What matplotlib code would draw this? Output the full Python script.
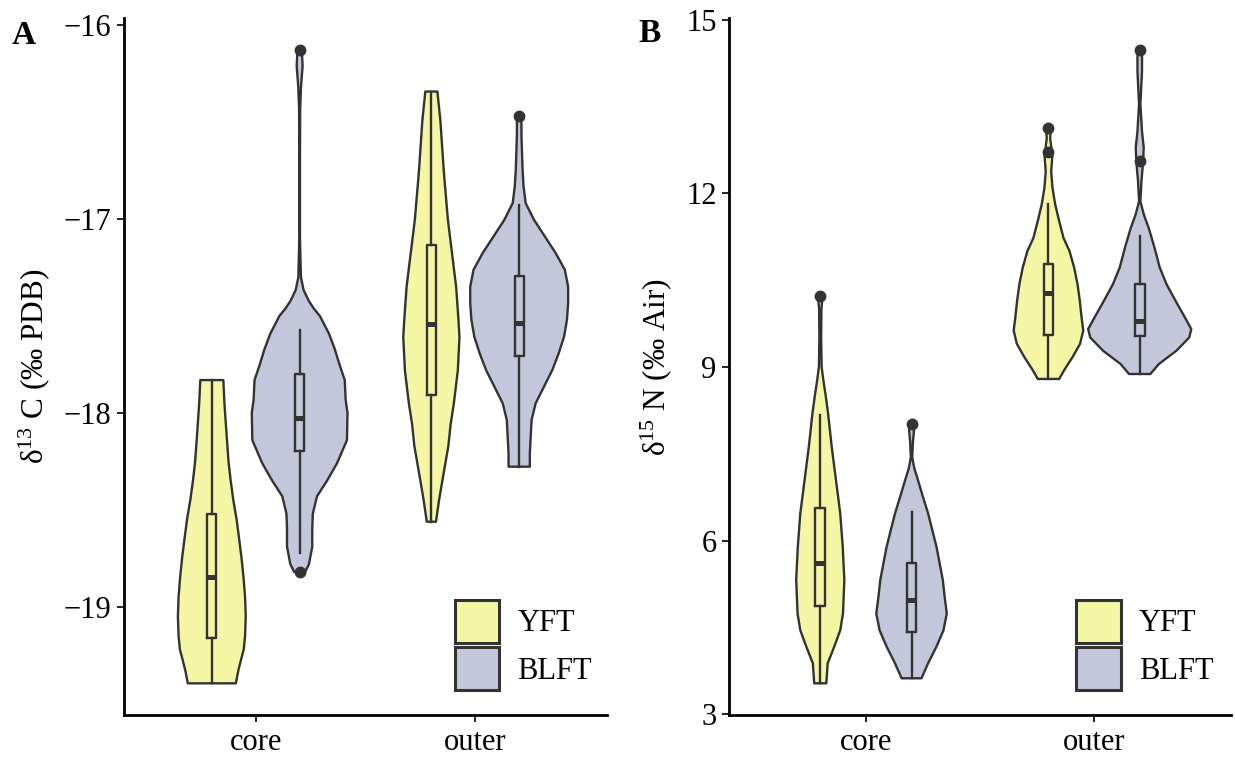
import numpy as np
import matplotlib
matplotlib.use("Agg")
import matplotlib.pyplot as plt
from matplotlib.patches import Patch

plt.rcParams['font.family'] = ['Liberation Serif', 'DejaVu Serif']
plt.rcParams['mathtext.fontset'] = 'custom'
plt.rcParams['mathtext.rm'] = 'Liberation Serif'

# violin outlines: value levels and full violin widths (x units)
# panel A, d13C
c_yft_core_lvl = [-17.83, -17.95, -18.10, -18.25, -18.35, -18.45, -18.55, -18.65, -18.75,
                  -18.85, -18.95, -19.05, -19.15, -19.22, -19.28, -19.33, -19.395]
c_yft_core_wid = [0.105, 0.115, 0.133, 0.152, 0.172, 0.196, 0.226, 0.249, 0.271,
                  0.289, 0.303, 0.309, 0.303, 0.291, 0.263, 0.241, 0.219]
c_blft_core_lvl = [-16.125, -16.21, -16.32, -16.43, -16.7, -17.1, -17.30, -17.365, -17.42,
                   -17.46, -17.50, -17.59, -17.67, -17.76, -17.83, -17.93, -18.00, -18.14,
                   -18.26, -18.35, -18.43, -18.52, -18.60, -18.69, -18.78, -18.82]
c_blft_core_wid = [0.02, 0.027, 0.012, 0.005, 0.003, 0.003, 0.012, 0.036, 0.082,
                   0.128, 0.185, 0.267, 0.32, 0.369, 0.411, 0.419, 0.436, 0.431,
                   0.340, 0.249, 0.158, 0.120, 0.115, 0.115, 0.085, 0.05]
c_yft_outer_lvl = [-16.341, -16.49, -16.75, -17.00, -17.175, -17.35, -17.52, -17.61,
                   -17.78, -17.95, -18.06, -18.17, -18.35, -18.45, -18.561]
c_yft_outer_wid = [0.055, 0.082, 0.113, 0.150, 0.188, 0.226, 0.247, 0.256,
                   0.241, 0.205, 0.175, 0.155, 0.100, 0.070, 0.042]
c_blft_outer_lvl = [-16.466, -16.573, -16.745, -16.83, -16.917, -17.003, -17.089, -17.175,
                    -17.261, -17.348, -17.434, -17.52, -17.606, -17.692, -17.778, -17.864,
                    -17.950, -18.036, -18.122, -18.208, -18.277]
c_blft_outer_wid = [0.02, 0.021, 0.031, 0.040, 0.059, 0.135, 0.234, 0.333,
                    0.416, 0.446, 0.446, 0.435, 0.409, 0.36, 0.302, 0.226,
                    0.150, 0.113, 0.105, 0.097, 0.097]

# panel B, d15N
n_yft_core_lvl = [10.224, 10.0, 9.5, 9.0, 8.76, 8.5, 8.19, 7.9, 7.61, 7.04, 6.47,
                  5.89, 5.32, 4.74, 4.45, 4.17, 3.88, 3.534]
n_yft_core_wid = [0.02, 0.01, 0.008, 0.012, 0.028, 0.048, 0.069, 0.085, 0.101, 0.138, 0.175,
                  0.197, 0.211, 0.199, 0.175, 0.123, 0.065, 0.053]
n_blft_core_lvl = [8.017, 7.90, 7.70, 7.44, 7.25, 7.04, 6.75, 6.47, 5.89, 5.32, 5.03,
                   4.74, 4.45, 4.17, 3.88, 3.621]
n_blft_core_wid = [0.02, 0.021, 0.012, 0.006, 0.024, 0.057, 0.101, 0.145, 0.219, 0.274, 0.29,
                   0.309, 0.280, 0.219, 0.145, 0.087]
n_yft_outer_lvl = [13.131, 12.95, 12.717, 12.67, 12.38, 12.10, 11.81, 11.52, 11.23, 11.0,
                   10.72, 10.43, 10.14, 9.86, 9.63, 9.40, 9.17, 8.94, 8.793]
n_yft_outer_wid = [0.02, 0.015, 0.03, 0.035, 0.024, 0.035, 0.059, 0.094, 0.132, 0.185,
                   0.225, 0.255, 0.275, 0.29, 0.305, 0.277, 0.211, 0.136, 0.094]
n_blft_outer_lvl = [14.483, 14.11, 13.54, 13.07, 12.79, 12.557, 12.21, 11.86, 11.64, 11.40,
                    11.06, 10.72, 10.43, 10.14, 9.86, 9.655, 9.51, 9.28, 9.05, 8.879]
n_blft_outer_wid = [0.02, 0.02, 0.006, 0.02, 0.035, 0.03, 0.015, 0.006, 0.035, 0.079,
                    0.13, 0.175, 0.235, 0.315, 0.395, 0.452, 0.434, 0.321, 0.167, 0.094]

# box stats, order: YFT core, BLFT core, YFT outer, BLFT outer
c_q1 = [-19.163, -18.195, -17.907, -17.706]
c_med = [-18.845, -18.027, -17.541, -17.534]
c_q3 = [-18.523, -17.800, -17.132, -17.292]
c_wlo = [-19.395, -18.722, -18.561, -18.277]
c_whi = [-17.830, -17.573, -16.341, -16.926]
c_out = [[], [-16.125, -18.82], [], [-16.466]]

n_q1 = [4.872, 4.424, 9.557, 9.540]
n_med = [5.614, 4.971, 10.276, 9.798]
n_q3 = [6.569, 5.614, 10.786, 10.442]
n_wlo = [3.534, 3.621, 8.793, 8.879]
n_whi = [8.172, 6.493, 11.820, 11.264]
n_out = [[10.224], [8.017], [12.717, 13.131], [12.557, 14.483]]

regions = ["core", "outer"]
species = ["YFT", "BLFT"]
fills = ["#F4F5A5", "#C4C7DA"]
edge = "#333333"
FS = 22


def draw_panel(ax, shapes, q1, med, q3, wlo, whi, outs, yticks, ylabel, label_x, leg_x):
    pos = []
    for i, (lvl, wid) in enumerate(shapes):
        c = 1 + i // 2 + (-0.2 if i % 2 == 0 else 0.2)
        pos.append(c)
        lvl = np.array(lvl)
        half = np.array(wid) / 2
        xs = np.concatenate([c - half, (c + half)[::-1]])
        ys = np.concatenate([lvl, lvl[::-1]])
        ax.fill(xs, ys, facecolor=fills[i % 2], edgecolor=edge, lw=1.7,
                joinstyle='round', zorder=2)

    stats = []
    for i in range(4):
        stats.append(dict(q1=q1[i], med=med[i], q3=q3[i], whislo=wlo[i], whishi=whi[i],
                          fliers=outs[i]))
    ax.bxp(stats, positions=pos, widths=0.042, showcaps=False, manage_ticks=False,
           boxprops=dict(color=edge, lw=1.7),
           whiskerprops=dict(color=edge, lw=1.7),
           medianprops=dict(color=edge, lw=3.6, solid_capstyle='butt'),
           flierprops=dict(marker='o', markerfacecolor=edge, markeredgecolor=edge,
                           markersize=7.5),
           zorder=3)

    allv = np.concatenate([np.array(s[0]) for s in shapes])
    lo, hi = allv.min(), allv.max()
    r = hi - lo
    ax.set_ylim(lo - 0.05 * r, hi + 0.05 * r)
    ax.set_xlim(0.4, 2.6)
    ax.set_xticks([1, 2])
    ax.set_xticklabels(regions)
    ax.set_yticks(yticks)
    ax.spines['top'].set_visible(False)
    ax.spines['right'].set_visible(False)
    for s in ['left', 'bottom']:
        ax.spines[s].set_linewidth(2.0)
    ax.tick_params(axis='both', labelsize=FS, length=5, width=1.4, pad=4, colors='#222222',
                   labelcolor='black')
    ax.set_ylabel(ylabel, fontsize=FS + 0.5)
    ax.yaxis.set_label_coords(label_x, 0.5)

    handles = [Patch(facecolor=fills[k], edgecolor=edge, lw=2.2, label=species[k])
               for k in range(2)]
    ax.legend(handles=handles, loc='upper left', bbox_to_anchor=(leg_x, 0.165),
              frameon=False, fontsize=FS, handlelength=1.45, handleheight=1.8,
              labelspacing=0.13, handletextpad=0.6, borderpad=0, borderaxespad=0)


fig = plt.figure(figsize=(12.35, 7.58), dpi=100)
axA = fig.add_axes([124 / 1235, 43 / 758, 483 / 1235, 697 / 758])
axB = fig.add_axes([729 / 1235, 43 / 758, 502 / 1235, 697 / 758])

draw_panel(axA,
           [(c_yft_core_lvl, c_yft_core_wid), (c_blft_core_lvl, c_blft_core_wid),
            (c_yft_outer_lvl, c_yft_outer_wid), (c_blft_outer_lvl, c_blft_outer_wid)],
           c_q1, c_med, c_q3, c_wlo, c_whi, c_out, [-19, -18, -17, -16],
           r'δ$\mathregular{^{13}}$ C (‰ PDB)', -0.150, 0.685)
draw_panel(axB,
           [(n_yft_core_lvl, n_yft_core_wid), (n_blft_core_lvl, n_blft_core_wid),
            (n_yft_outer_lvl, n_yft_outer_wid), (n_blft_outer_lvl, n_blft_outer_wid)],
           n_q1, n_med, n_q3, n_wlo, n_whi, n_out, [3, 6, 9, 12, 15],
           r'δ$\mathregular{^{15}}$ N (‰ Air)', -0.110, 0.692)

fig.text(12 / 1235, 1 - 44 / 758, 'A', fontsize=FS + 2, fontweight='bold')
fig.text(638 / 1235, 1 - 42 / 758, 'B', fontsize=FS + 2, fontweight='bold')

fig.savefig("out.png", dpi=100)
